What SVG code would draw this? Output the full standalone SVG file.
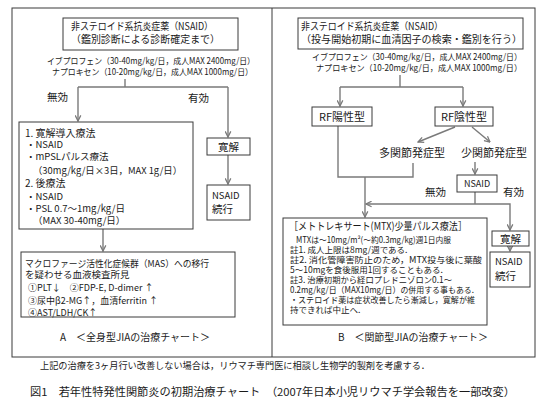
<svg xmlns="http://www.w3.org/2000/svg" width="550" height="413" viewBox="0 0 550 413">
<style>
text{font-family:"Noto Sans CJK JP","Noto Sans",sans-serif;fill:#1a1a1a}
.b{fill:#fff;stroke:#3a3a3a;stroke-width:1}
.f{fill:none;stroke:#3a3a3a;stroke-width:1}
.c{fill:none;stroke:#7a7a7a;stroke-width:1.4}
.s10{font-size:10px}
.s105{font-size:10.5px}
.s95{font-size:9.5px}
.s9{font-size:9px}
.s85{font-size:8.5px}
.s11{font-size:11px}
.m{text-anchor:middle}
</style>
<defs>
<marker id="ah" viewBox="0 0 10 10" refX="9" refY="5" markerWidth="7" markerHeight="7" orient="auto" markerUnits="userSpaceOnUse">
<path d="M1,1 L9,5 L1,9" fill="none" stroke="#7a7a7a" stroke-width="1.8"/>
</marker>
</defs>
<rect width="550" height="413" fill="#fff"/>
<g id="frame">
<rect class="f" x="12" y="8" width="523" height="349"/>
<line class="f" x1="272" y1="8" x2="272" y2="357"/>
</g>
<g id="connectors">
<path class="c" d="M125,79 V87 M78,87 H228"/>
<path class="c" d="M78,87 V121" marker-end="url(#ah)"/>
<path class="c" d="M228,87 V137" marker-end="url(#ah)"/>
<path class="c" d="M228,155 V184" marker-end="url(#ah)"/>
<path class="c" d="M103,229 V251" marker-end="url(#ah)"/>
<path class="c" d="M400,75 V87 M340,87 H463"/>
<path class="c" d="M340,87 V106" marker-end="url(#ah)"/>
<path class="c" d="M463,87 V106" marker-end="url(#ah)"/>
<path class="c" d="M455,127 L418,142" marker-end="url(#ah)"/>
<path class="c" d="M472,127 L490,142" marker-end="url(#ah)"/>
<path class="c" d="M338,126 V177 H413 V163"/>
<path class="c" d="M365,177 V217" marker-end="url(#ah)"/>
<path class="c" d="M475,162 V174" marker-end="url(#ah)"/>
<path class="c" d="M475,192 V204"/>
<path class="c" d="M475,204 H366" marker-end="url(#ah)"/>
<path class="c" d="M475,204 H510 V230" marker-end="url(#ah)"/>
<path class="c" d="M510,246 V251" marker-end="url(#ah)"/>
</g>
<g id="a-nsaid">
<rect class="b" x="63" y="18" width="175" height="32"/>
<text class="s10" x="71" y="30" textLength="142" lengthAdjust="spacingAndGlyphs">非ステロイド系抗炎症薬（NSAID）</text>
<text class="s10" x="71" y="43" textLength="149" lengthAdjust="spacingAndGlyphs">（鑑別診断による診断確定まで）</text>
</g>
<g id="a-dose">
<text class="s85" x="47" y="64" textLength="208" lengthAdjust="spacingAndGlyphs">イブプロフェン（30-40mg/kg/日，成人MAX 2400mg/日）</text>
<text class="s85" x="52" y="75" textLength="201" lengthAdjust="spacingAndGlyphs">ナプロキセン（10-20mg/kg/日，成人MAX  1000mg/日）</text>
</g>
<g id="a-labels">
<text class="s105" x="47" y="101">無効</text>
<text class="s105" x="188" y="102">有効</text>
</g>
<g id="a-induction">
<rect class="b" x="19" y="122" width="174" height="107"/>
<text class="s10" x="25" y="137">1. 寛解導入療法</text>
<text class="s95" x="26" y="148">・NSAID</text>
<text class="s95" x="26" y="160">・mPSLパルス療法</text>
<text class="s95" x="33" y="174" textLength="149" lengthAdjust="spacingAndGlyphs">（30mg/kg/日×3日，MAX 1g/日）</text>
<text class="s10" x="25" y="187">2. 後療法</text>
<text class="s95" x="26" y="200">・NSAID</text>
<text class="s95" x="26" y="212">・PSL 0.7〜1mg/kg/日</text>
<text class="s95" x="33" y="224">（MAX 30-40mg/日）</text>
</g>
<g id="a-remission">
<rect class="b" x="207" y="138" width="43" height="17"/>
<text class="s105 m" x="228.5" y="150.5">寛解</text>
</g>
<g id="a-continue">
<rect class="b" x="207" y="185" width="43" height="35"/>
<text class="s95" x="212" y="199">NSAID</text>
<text class="s105" x="212" y="213">続行</text>
</g>
<g id="a-mas">
<rect class="b" x="21" y="252" width="214" height="65"/>
<text class="s95" x="25" y="266.5" textLength="184" lengthAdjust="spacingAndGlyphs">マクロファージ活性化症候群（MAS）への移行</text>
<text class="s95" x="25" y="277.5">を疑わせる血液検査所見</text>
<text class="s9" x="28" y="291">①PLT↓　②FDP-E, D-dimer ↑</text>
<text class="s9" x="28" y="304">③尿中β2-MG↑，血清ferritin ↑</text>
<text class="s9" x="28" y="315.5">④AST/LDH/CK↑</text>
</g>
<g id="a-title">
<text class="s10" x="60" y="341" textLength="150" lengthAdjust="spacingAndGlyphs">A　＜全身型JIAの治療チャート＞</text>
</g>
<g id="b-nsaid">
<rect class="b" x="298" y="18" width="225" height="31"/>
<text class="s10" x="301" y="30" textLength="142" lengthAdjust="spacingAndGlyphs">非ステロイド系抗炎症薬（NSAID）</text>
<text class="s10" x="301" y="43" textLength="221" lengthAdjust="spacingAndGlyphs">（投与開始初期に血清因子の検索・鑑別を行う）</text>
</g>
<g id="b-dose">
<text class="s85" x="312" y="60" textLength="210" lengthAdjust="spacingAndGlyphs">イブプロフェン（30-40mg/kg/日，成人MAX 2400mg/日）</text>
<text class="s85" x="316" y="71" textLength="206" lengthAdjust="spacingAndGlyphs">ナプロキセン（10-20mg/kg/日，成人MAX  1000mg/日）</text>
</g>
<g id="b-rfpos">
<rect class="b" x="312" y="107" width="60" height="19"/>
<text class="s11 m" x="342" y="120.5">RF陽性型</text>
</g>
<g id="b-rfneg">
<rect class="b" x="435" y="107" width="58" height="19"/>
<text class="s11 m" x="464" y="120.5">RF陰性型</text>
</g>
<g id="b-poly">
<text class="s11 m" x="412" y="157">多関節発症型</text>
</g>
<g id="b-oligo">
<text class="s11 m" x="494" y="157">少関節発症型</text>
</g>
<g id="b-nsaid2">
<rect class="b" x="457" y="175" width="40" height="17"/>
<text class="s9 m" x="477" y="187">NSAID</text>
</g>
<g id="b-labels">
<text class="s105" x="425" y="196">無効</text>
<text class="s105" x="503" y="196">有効</text>
</g>
<g id="b-mtx">
<rect class="b" x="283" y="218" width="204" height="107"/>
<text class="s105" x="289" y="230" textLength="178" lengthAdjust="spacingAndGlyphs">［メトトレキサート(MTX)少量パルス療法］</text>
<text class="s85" x="296" y="243" textLength="155" lengthAdjust="spacingAndGlyphs">MTXは〜10mg/m²(〜約0.3mg/kg)週1日内服</text>
<text class="s85" x="290" y="253">註1. 成人上限は8mg/週である.</text>
<text class="s85" x="290" y="263" textLength="192" lengthAdjust="spacingAndGlyphs">註2. 消化管障害防止のため，MTX投与後に葉酸</text>
<text class="s85" x="290" y="273">5〜10mgを食後服用1回することもある.</text>
<text class="s85" x="290" y="283" textLength="162" lengthAdjust="spacingAndGlyphs">註3. 治療初期から経口プレドニゾロン0.1〜</text>
<text class="s85" x="290" y="293" textLength="184" lengthAdjust="spacingAndGlyphs">0.2mg/kg/日（MAX10mg/日）の併用する事もある.</text>
<text class="s85" x="290" y="303" textLength="185" lengthAdjust="spacingAndGlyphs">・ステロイド薬は症状改善したら漸減し，寛解が維</text>
<text class="s85" x="290" y="313">持できれば中止へ.</text>
</g>
<g id="b-remission">
<rect class="b" x="492" y="231" width="37" height="15"/>
<text class="s105 m" x="510.5" y="242.5">寛解</text>
</g>
<g id="b-continue">
<rect class="b" x="490" y="252" width="40" height="35"/>
<text class="s95" x="495" y="265">NSAID</text>
<text class="s105" x="495" y="280">続行</text>
</g>
<g id="b-title">
<text class="s10" x="338" y="341" textLength="150" lengthAdjust="spacingAndGlyphs">B　＜関節型JIAの治療チャート＞</text>
</g>
<g id="footer">
<text class="s95" x="40" y="368.5" textLength="390" lengthAdjust="spacingAndGlyphs">上記の治療を3ヶ月行い改善しない場合は，リウマチ専門医に相談し生物学的製剤を考慮する．</text>
<text class="s11" x="30" y="396" textLength="485" lengthAdjust="spacingAndGlyphs">図1　若年性特発性関節炎の初期治療チャート　（2007年日本小児リウマチ学会報告を一部改変）</text>
</g>
</svg>
